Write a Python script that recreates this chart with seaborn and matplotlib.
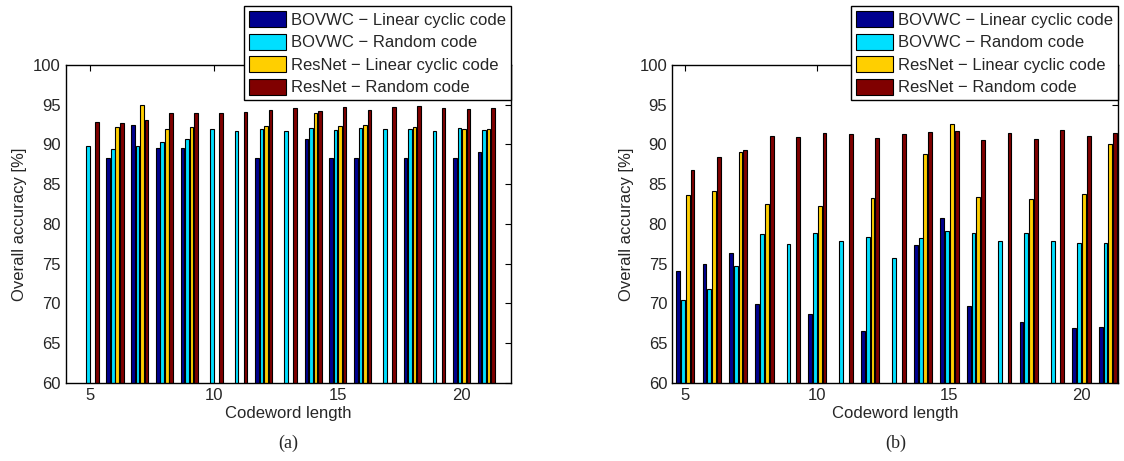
import numpy as np
import pandas as pd
import matplotlib
matplotlib.use('Agg')
import matplotlib.pyplot as plt
import seaborn as sns

nan = np.nan

lengths = list(range(5, 22))
series_names = ['BOVWC \u2212 Linear cyclic code', 'BOVWC \u2212 Random code',
                'ResNet \u2212 Linear cyclic code', 'ResNet \u2212 Random code']
colors = ['#00008F', '#00DFFF', '#FFCF00', '#800000']

# (a)
a_bovwc_lin = [nan, 88.3, 92.4, 89.5, 89.5, nan, nan, 88.3, nan, 90.7, 88.3, 88.3, nan, 88.3, nan, 88.3, 89.05]
a_bovwc_rand = [89.8, 89.4, 89.75, 90.3, 90.65, 91.9, 91.65, 91.9, 91.75, 92.1, 91.8, 92.1, 91.9, 91.9, 91.75, 92.1, 91.8]
a_resnet_lin = [nan, 92.25, 94.9, 91.95, 92.25, nan, nan, 92.35, nan, 93.9, 92.35, 92.4, nan, 92.25, nan, 92.0, 91.9]
a_resnet_rand = [92.8, 92.65, 93.1, 93.9, 93.9, 93.9, 94.1, 94.3, 94.6, 94.2, 94.7, 94.3, 94.7, 94.8, 94.6, 94.5, 94.55]

# (b)
b_bovwc_lin = [74.1, 75.0, 76.3, 69.9, nan, 68.7, nan, 66.5, nan, 77.3, 80.8, 69.7, nan, 67.7, nan, 66.9, 67.0]
b_bovwc_rand = [70.4, 71.8, 74.7, 78.7, 77.5, 78.9, 77.8, 78.4, 75.75, 78.2, 79.1, 78.8, 77.9, 78.9, 77.9, 77.55, 77.6]
b_resnet_lin = [83.7, 84.1, 89.1, 82.5, nan, 82.3, nan, 83.3, nan, 88.8, 92.6, 83.45, nan, 83.2, nan, 83.8, 90.05]
b_resnet_rand = [86.8, 88.4, 89.25, 91.05, 90.9, 91.5, 91.25, 90.85, 91.3, 91.6, 91.7, 90.55, 91.5, 90.7, 91.85, 91.0, 91.4]


def to_long(cols):
    df = pd.DataFrame({'length': lengths})
    for name, vals in zip(series_names, cols):
        df[name] = vals
    df = df.melt(id_vars='length', var_name='method', value_name='acc')
    return df.dropna()


df_a = to_long([a_bovwc_lin, a_bovwc_rand, a_resnet_lin, a_resnet_rand])
df_b = to_long([b_bovwc_lin, b_bovwc_rand, b_resnet_lin, b_resnet_rand])

sns.set_style('white')
plt.rcParams['font.family'] = ['Liberation Sans', 'DejaVu Sans']

fig = plt.figure(figsize=(11.24, 4.61), dpi=100)
ax_a = fig.add_axes([0.0583, 0.1692, 0.3964, 0.690])
ax_b = fig.add_axes([0.5979, 0.1692, 0.3972, 0.690])


def draw(ax, df, xlim, leg_y, caption):
    sns.barplot(data=df, x='length', y='acc', hue='method', hue_order=series_names,
                palette=colors, native_scale=True, width=0.727, gap=0.2,
                errorbar=None, saturation=1, edgecolor='black', linewidth=0.8, ax=ax)
    ax.set_xlim(*xlim)
    ax.set_ylim(60, 100)
    ax.set_xticks([5, 10, 15, 20])
    ax.set_yticks(range(60, 101, 5))
    ax.tick_params(direction='in', top=True, right=True, length=4, labelsize=12,
                   color='black', width=0.8)
    for s in ax.spines.values():
        s.set_color('black')
        s.set_linewidth(1.0)
        s.set_visible(True)
    ax.set_xlabel('Codeword length', fontsize=12, labelpad=2)
    ax.set_ylabel('Overall accuracy [%]', fontsize=12)
    sns.move_legend(ax, 'upper right', bbox_to_anchor=(1.0, leg_y), title=None,
                    frameon=True, fancybox=False, edgecolor='black', framealpha=1,
                    fontsize=12, handlelength=2.25, handleheight=1.1,
                    labelspacing=0.35, borderpad=0.3, handletextpad=0.3,
                    borderaxespad=0)
    ax.get_legend().get_frame().set_linewidth(1.0)
    pos = ax.get_position()
    fig.text(pos.x0 + pos.width / 2, 0.038, caption, ha='center', va='center',
             fontsize=13, family=['Liberation Serif', 'DejaVu Serif'])


draw(ax_a, df_a, (4, 22), 1.185, '(a)')
draw(ax_b, df_b, (4.5, 21.4), 1.185, '(b)')

fig.savefig('out.png', dpi=100)
